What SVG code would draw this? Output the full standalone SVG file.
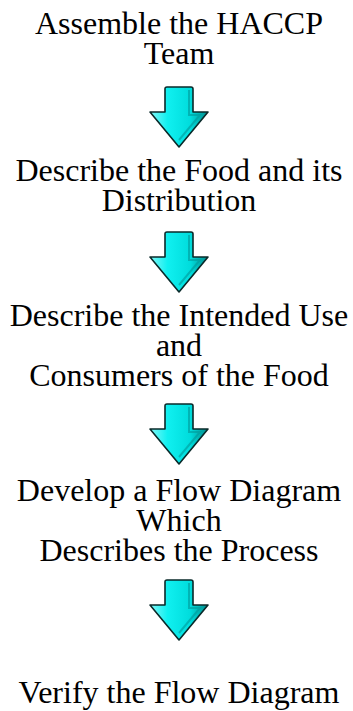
<svg xmlns="http://www.w3.org/2000/svg" width="353" height="711" viewBox="0 0 353 711">
<style>
.t{font-family:"Liberation Serif","Times New Roman",serif;font-size:32px;fill:#000;text-anchor:middle}
.arrow{stroke:#0a2a2a;stroke-width:1.6;stroke-linejoin:round}
</style>
<defs>
<linearGradient id="g" x1="0" y1="0" x2="1" y2="0">
<stop offset="0" stop-color="#80f8f8"/>
<stop offset="0.3" stop-color="#10f0f0"/>
<stop offset="0.7" stop-color="#00dcdc"/>
<stop offset="1" stop-color="#008c8c"/>
</linearGradient>
<g id="arr">
<path class="arrow" fill="url(#g)" d="M-12,0 L12,0 Q14,0 14,2 L14,25 L29,25 L0,60 L-29,25 L-14,25 L-14,2 Q-14,0 -12,0 Z"/>
<path d="M10,3 L10,28 L21,28 L0,53" fill="none" stroke="#009a9a" stroke-width="2" opacity="0.6"/>
</g>
</defs>
<rect width="353" height="711" fill="#fff"/>
<g id="connectors">
<use href="#arr" transform="translate(179,87)"/>
<use href="#arr" transform="translate(179,232)"/>
<use href="#arr" transform="translate(179,404)"/>
<use href="#arr" transform="translate(179,580)"/>
</g>
<g id="n1"><text class="t" x="179" y="34">Assemble the HACCP<tspan x="179" dy="30">Team</tspan></text></g>
<g id="n2"><text class="t" x="179" y="181">Describe the Food and its<tspan x="179" dy="30">Distribution</tspan></text></g>
<g id="n3"><text class="t" x="179" y="326">Describe the Intended Use<tspan x="179" dy="30">and</tspan><tspan x="179" dy="30">Consumers of the Food</tspan></text></g>
<g id="n4"><text class="t" x="179" y="501">Develop a Flow Diagram<tspan x="179" dy="30">Which</tspan><tspan x="179" dy="30">Describes the Process</tspan></text></g>
<g id="n5"><text class="t" x="179" y="703">Verify the Flow Diagram</text></g>
</svg>
